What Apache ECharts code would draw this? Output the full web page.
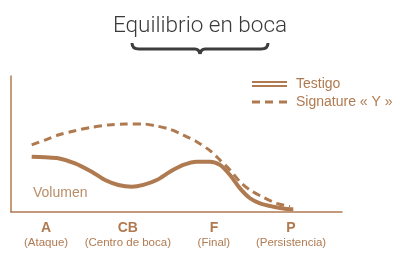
<!DOCTYPE html>
<html><head><meta charset="utf-8">
<script src="https://cdn.jsdelivr.net/npm/echarts@6/dist/echarts.min.js"></script>
<style>html,body{margin:0;padding:0;background:#fff}#c{width:400px;height:270px}</style>
</head><body><div id="c"></div>
<script>
var title = 'Equilibrio en boca';
var seriesNames = ['Testigo', 'Signature « Y »'];
var categoryCodes = ['A', 'CB', 'F', 'P'];
var categoryNames = ['(Ataque)', '(Centro de boca)', '(Final)', '(Persistencia)'];
var categoryX = [10.6, 35.3, 61.3, 84.6];
var testigoX = [6.25, 10.27, 14.29, 19.34, 24.38, 28.4, 32.42, 36.47, 39.97, 44.02, 48.04, 52.05, 56.1, 60.12, 63.14, 66.16, 69.18, 72.21, 75.23, 79.24, 83.29, 85.29];
var testigoY = [40.7, 40.2, 39.5, 35.8, 29.6, 23.5, 19.9, 18.6, 19.9, 23.5, 29.6, 34.6, 37.0, 37.0, 34.6, 27.2, 17.4, 10.1, 6.4, 3.9, 2.2, 2.0];
var signatureX = [6.25, 10.27, 14.29, 19.34, 24.38, 29.4, 34.44, 39.97, 44.02, 48.04, 52.05, 56.1, 60.12, 63.14, 66.16, 69.18, 72.21, 76.22, 80.27, 84.29];
var signatureY = [49.3, 52.9, 56.6, 59.8, 62.3, 64.0, 64.7, 64.7, 63.2, 60.8, 56.6, 51.7, 45.1, 38.2, 30.9, 22.3, 16.2, 10.8, 6.4, 4.0];
var axisName = 'Volumen';

var brown = '#b07a50';
function pairs(xs, ys){ return xs.map(function(x,i){ return [x, ys[i]]; }); }
var braceStyle = {stroke: '#3c3c3c', lineWidth: 3, fill: null};
function bez(x1,y1,cx,cy,x2,y2){ return {type:'bezierCurve', shape:{x1:x1,y1:y1,cpx1:cx,cpy1:cy,x2:x2,y2:y2}, style: braceStyle}; }
function seg(x1,y1,x2,y2){ return {type:'line', shape:{x1:x1,y1:y1,x2:x2,y2:y2}, style: braceStyle}; }
var chart = echarts.init(document.getElementById('c'), null, {renderer:'canvas'});
chart.setOption({
  animation: false,
  textStyle: {fontFamily: 'Liberation Sans, Arial, sans-serif'},
  title: {text: title, left: 'center', top: 10,
    textStyle: {fontFamily: 'Roboto, Liberation Sans, sans-serif', fontWeight: 300, fontSize: 22.5, color: '#3a3a3a'}},
  legend: {
    orient: 'vertical', left: 252, top: 77, padding: 0, itemGap: 4, itemWidth: 35, itemHeight: 6,
    textStyle: {color: brown, fontSize: 14, padding: [0,0,0,4]},
    data: [
      {name: seriesNames[0], icon: 'path://M0,0H35V2H0Z M0,4H35V6H0Z'},
      {name: seriesNames[1], icon: 'path://M0,1.5H8V4.5H0Z M13,1.5H21V4.5H13Z M27,1.5H35V4.5H27Z M0,0H0.01V6H0Z'}
    ]
  },
  grid: {left: 11, right: 58, top: 76, bottom: 58},
  xAxis: {type: 'value', min: 0, max: 100,
    axisLine: {show: true, lineStyle: {color: brown, width: 1.5}},
    axisTick: {show: false}, splitLine: {show: false},
    axisLabel: {customValues: categoryX, margin: 8,
      formatter: function(v){ var i = categoryX.indexOf(v); return i < 0 ? '' : '{a|' + categoryCodes[i] + '}\n{b|' + categoryNames[i] + '}'; },
      rich: {a: {fontSize: 14, fontWeight: 'bold', color: brown, lineHeight: 16},
             b: {fontSize: 11.5, color: brown, lineHeight: 14}}}
  },
  yAxis: {type: 'value', min: 0, max: 100,
    axisLine: {show: true, lineStyle: {color: brown, width: 1.5}},
    axisTick: {show: false}, splitLine: {show: false}, axisLabel: {show: false}},
  series: [
    {name: seriesNames[0], type: 'line', smooth: 0.3, symbol: 'none', color: brown,
     lineStyle: {width: 4, color: brown}, data: pairs(testigoX, testigoY)},
    {name: seriesNames[1], type: 'line', smooth: 0.3, symbol: 'none', color: brown,
     lineStyle: {width: 3, color: brown, type: [8,5]}, data: pairs(signatureX, signatureY)}
  ],
  graphic: [
    bez(132,43,132,49,139,49), seg(139,49,195,49), bez(195,49,199,49,200,54),
    bez(200,54,201,49,205,49), seg(205,49,261,49), bez(261,49,268,49,268,43),
    {type: 'text', left: 33, top: 186, style: {text: axisName, fontSize: 14, fill: '#b88d68', fontFamily: 'Liberation Sans, Arial, sans-serif'}}
  ]
});
</script></body></html>
